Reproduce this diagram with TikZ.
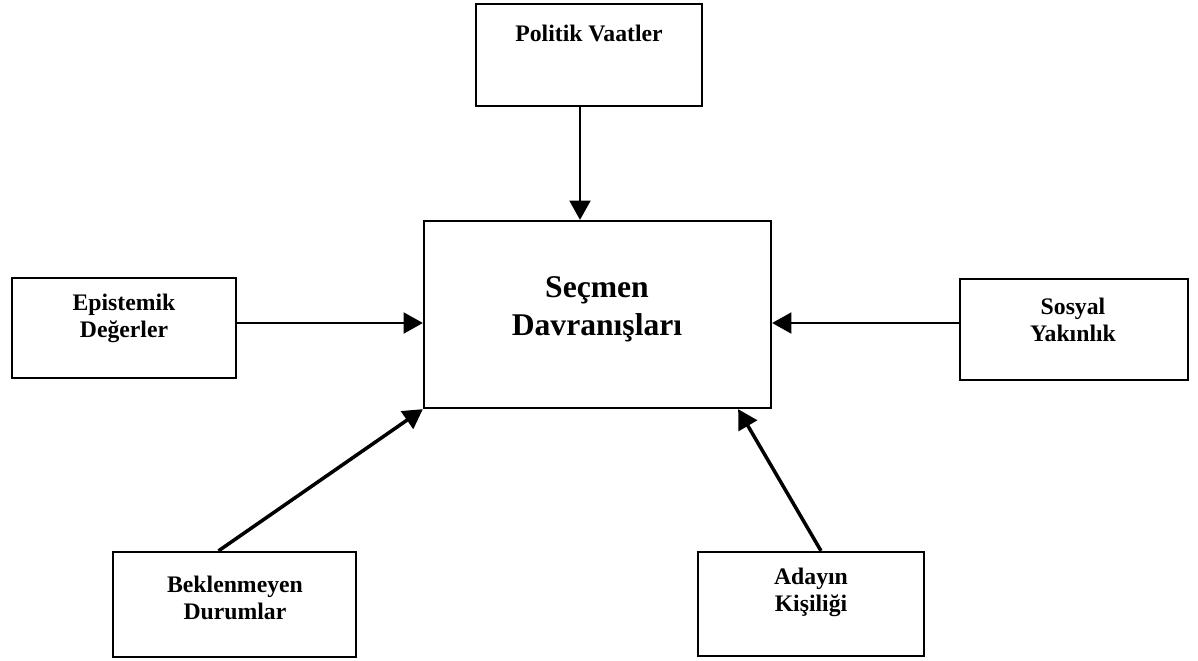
\documentclass[tikz,border=0pt]{standalone}
\usepackage{fontspec}
\setmainfont{Liberation Serif}
\usetikzlibrary{positioning, fit, arrows.meta}

\begin{document}
\begin{tikzpicture}[x=0.02cm, y=-0.02cm,
        box/.style={draw, line width=1.3pt, inner sep=0pt},
        lbl/.style={align=center, inner sep=0pt, font=\fontsize{13.5}{15.5}\selectfont\bfseries},
        arr/.style={line width=1.1pt, -{Triangle[length=11pt,width=12pt]}},
        diag/.style={arr, line width=2pt}]
        \useasboundingbox (0,0) rectangle (1198,660);
        \node[box, fit={(476,4) (702,106)}] (pol) {};
        \node[box, fit={(424,221) (771,408)}] (sec) {};
        \node[box, fit={(12,278) (236,378)}] (epi) {};
        \node[box, fit={(960,279) (1188,380)}] (sos) {};
        \node[box, fit={(113,552) (356,657)}] (bek) {};
        \node[box, fit={(698,552) (924,656)}] (ada) {};
        \node[lbl] (poltxt) at (589,33) {Politik Vaatler};
        \node[style={align=center}, inner sep=0pt, font=\fontsize{18}{21.5}\selectfont\bfseries] (sectxt) at (597,309) {Seçmen\\Davranışları};
        \node[lbl] (epitxt) at (124,318) {Epistemik\\Değerler};
        \node[lbl] (sostxt) at (1073,320) {Sosyal\\Yakınlık};
        \node[lbl] (bektxt) at (235,598) {Beklenmeyen\\Durumlar};
        \node[lbl] (adatxt) at (811,592) {Adayın\\Kişiliği};
        \draw[arr] ([xshift=-0.18cm]pol.south) -- ([xshift=-0.18cm]pol.south |- sec.north);
        \draw[arr] ([yshift=0.1cm]epi.east) -- ([yshift=0.1cm]epi.east -| sec.west);
        \draw[arr] ([yshift=0.13cm]sos.west) -- ([yshift=0.13cm]sos.west -| sec.east);
        \draw[diag] ([xshift=-0.32cm]bek.north) -- (sec.south west);
        \draw[diag] ([xshift=0.2cm]ada.north) -- ([xshift=-0.68cm]sec.south east);
\end{tikzpicture}
\end{document}
